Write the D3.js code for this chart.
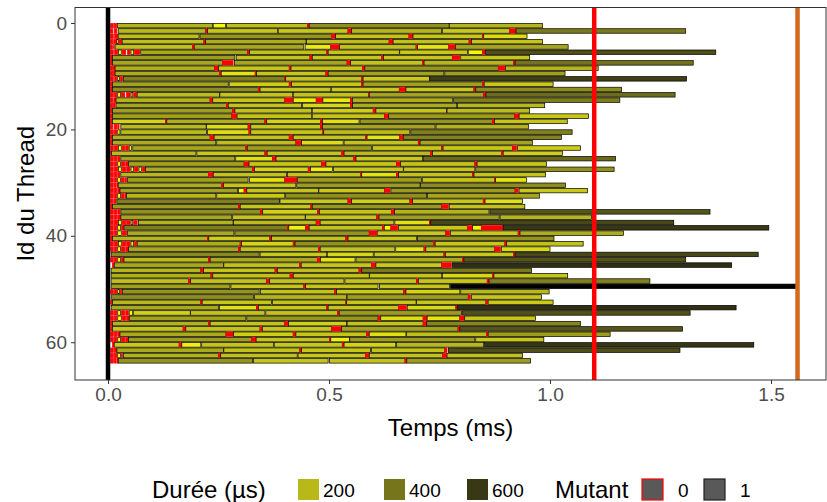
<!DOCTYPE html>
<html>
<head>
<meta charset="utf-8">
<script src="https://cdn.jsdelivr.net/npm/d3@7"></script>
<style>
  body { margin: 0; background: #fff; }
  svg { display: block; font-family: "Liberation Sans", Arial, sans-serif; }
</style>
</head>
<body>
<svg id="chart" width="827" height="502"></svg>
<script>
// one string per thread: "start-end" in µs, prefix r = mutant 0 (red)
const threadRows = [
  "r6-12 r14-19 21-236 238-266 268-451 r451-455 455-772 772-983",
  "r6-11 r14-20 23-221 r221-225 225-384 385-543 r543-551 551-755 757-909 r909-923 923-1307",
  "r6-12 r15-22 23-206 208-506 r506-515 515-681 r681-690 690-847 r847-850 850-948",
  "r6-11 r13-19 20-24 r25-31 32-217 r217-221 221-448 449-636 r636-645 645-817 r817-822 822-983",
  "r6-10 r12-14 16-191 r191-195 195-443 446-503 r504-523 524-697 r697-700 700-771 r771-785 786-1041",
  "r6-12 r15-22 24-30 r32-40 r44-50 52-58 r60-72 74-316 r316-320 320-495 r495-498 498-659 660-813 815-847 r847-853 854-1375",
  "r6-10 10-287 290-457 r457-462 462-619 r619-623 623-779 r779-796 798-954",
  "r6-10 10-259 r259-283 286-541 r541-549 549-712 r712-715 715-918 r918-921 921-1324",
  "r6-11 r12-16 16-241 r241-250 250-410 r410-414 414-576 r576-581 581-883 r883-898 899-1109",
  "r6-11 r12-16 16-252 r252-256 256-333 r333-336 336-493 r493-498 498-760 762-1034",
  "r6-12 r15-20 22-26 r28-33 35-399 r399-402 402-574 r574-577 577-727 728-1309",
  "r6-10 10-272 274-410 r410-415 415-574 r574-577 577-847 r847-851 851-1007",
  "r6-10 10-340 r340-344 344-504 506-659 r659-674 674-828 r828-832 832-1162",
  "r6-12 r14-20 22-28 r30-38 r42-50 52-56 r58-65 66-252 253-418 419-589 r589-591 591-850 r850-855 855-1283",
  "r6-11 r13-18 18-231 r231-237 237-400 r400-419 419-471 r471-486 486-549 r549-553 553-780 782-1158",
  "r6-11 r12-16 18-268 r268-272 272-438 440-549 r549-553 553-789 791-988",
  "r6-10 10-282 r282-287 287-461 462-600 r600-606 606-766 767-954",
  "r6-10 10-280 r280-291 292-461 462-626 r626-635 635-920 r920-930 930-1087",
  "r6-10 10-130 r130-133 133-355 r355-359 359-481 r481-485 485-568 570-870 r870-874 874-1039",
  "r6-11 r14-20 r22-25 29-222 223-317 r317-323 323-481 r481-485 485-740 742-951",
  "r6-12 r14-20 22-27 29-223 225-319 r319-323 323-486 r486-488 488-683 685-1050",
  "r6-10 10-231 r231-240 240-410 r410-419 419-583 r583-586 586-660 r660-668 668-1026",
  "r6-10 10-244 246-425 r425-438 438-532 534-702 r702-706 706-960",
  "r6-12 r14-22 24-30 r32-38 r40-46 48-53 56-311 r311-315 315-596 598-755 r755-758 758-915 r915-924 926-1069",
  "r6-8 8-199 201-355 r355-360 360-528 r528-534 534-730 r730-734 734-890 r890-894 894-1028",
  "r6-12 r14-20 r22-27 29-287 289-372 r372-380 380-555 r555-561 561-712 713-1148",
  "r6-12 r14-20 22-28 r30-38 r40-46 46-308 r308-319 319-483 r483-493 493-653 r653-662 662-830 r830-835 835-992",
  "r6-12 r14-22 24-30 r32-40 r42-50 52-58 r60-68 70-76 r78-84 85-327 r327-331 331-453 r453-458 458-508 510-668 669-830 832-1145",
  "r6-12 r14-20 r22-27 29-227 r227-238 238-404 406-571 r571-574 574-653 r653-657 657-825 r825-828 828-990",
  "r6-12 r14-20 22-28 r30-36 r38-42 44-317 320-400 r400-428 428-709 711-875 r875-877 877-947",
  "r6-12 r14-18 r20-23 23-257 r257-261 261-425 427-706 707-1035",
  "r6-12 r14-20 r22-27 27-293 295-308 r308-314 314-476 477-626 r626-638 640-921 r921-928 930-1085",
  "r6-12 r14-20 22-28 r30-36 r38-41 42-244 246-400 402-721 723-976",
  "r6-11 r13-18 20-388 389-543 r543-551 551-683 r683-689 689-849 r849-853 853-938",
  "r6-10 10-295 r295-299 299-459 r459-462 462-755 r755-770 772-943",
  "r6-12 r14-20 r22-27 29-345 r345-350 350-474 r474-478 478-641 r641-648 648-862 864-1362",
  "r6-12 r14-20 r22-29 29-280 282-446 447-608 r608-613 613-885 887-1094",
  "r6-12 r14-22 24-30 r32-40 r42-50 52-56 r58-66 69-283 284-471 r471-479 480-647 649-727 r727-730 730-1280",
  "r6-12 r14-20 22-28 r30-35 36-406 r406-409 409-447 r447-455 455-621 r621-625 625-640 r640-655 657-813 r813-825 825-845 r845-894 894-1495",
  "r6-12 r14-20 22-30 r32-42 44-285 287-591 r591-608 609-764 r764-773 775-928 r928-932 932-1166",
  "r6-10 10-225 r225-228 228-366 r366-370 370-538 r538-543 543-698 700-1009",
  "r6-12 r14-22 24-30 r32-40 r42-50 52-58 r60-65 66-299 r299-302 302-419 r419-423 423-736 r736-740 740-898 r898-902 902-1075",
  "r6-12 r14-20 22-28 r30-38 r40-46 46-295 r295-299 299-476 r476-480 480-649 651-715 r715-719 719-875 r875-888 890-1000",
  "7-342 344-495 496-600 602-760 r760-763 763-918 r918-921 921-1471",
  "r6-12 r14-20 22-28 r30-36 36-227 r227-231 231-474 r474-480 481-559 561-802 r802-805 805-1307",
  "r10-14 14-261 262-433 r433-437 437-596 r596-606 606-755 r755-777 779-1411",
  "7-210 r210-216 216-378 r378-383 383-568 r568-574 574-958",
  "7-233 r233-237 237-412 r412-419 419-591 592-755 757-870 r870-873 873-1040",
  "7-182 r182-187 187-359 r359-365 365-534 536-698 r698-702 702-858 r858-862 862-1226",
  "7-276 278-443 r443-447 447-611 614-773 775-1560",
  "r6-12 r14-20 22-26 r28-31 33-342 345-513 r513-517 517-669 r669-674 674-796 798-998",
  "7-329 331-540 541-815 r815-820 822-981",
  "r6-10 10-210 r210-213 213-370 372-538 r538-540 540-697 698-855 r855-859 860-1007",
  "7-250 252-336 r336-340 340-495 r495-498 498-657 r657-675 677-787 r787-790 790-1421",
  "r6-12 r14-20 22-28 r30-38 r40-46 48-56 57-186 187-355 357-519 r519-523 523-800 802-1317",
  "r6-12 r14-20 22-30 r32-40 r42-48 48-312 314-611 r611-617 617-713 r713-722 722-796 r796-807 807-967",
  "r6-10 10-227 r227-231 231-400 r400-408 408-540 541-713 r713-721 721-1069",
  "r6-10 10-170 r170-176 176-344 r344-349 349-506 r506-528 528-792 r792-796 796-1300",
  "r6-12 r14-20 r22-27 27-267 r267-284 284-419 r419-425 425-585 r585-591 591-674 675-856 r856-860 860-1136",
  "r6-12 r14-20 22-28 r30-38 r40-46 46-325 r325-335 335-501 r501-504 504-546 547-830 832-986",
  "r10-14 14-161 r161-167 167-210 212-374 376-530 r530-534 534-651 653-850 852-1461",
  "r6-12 r14-20 20-261 262-434 r434-438 438-594 596-762 r762-767 770-1294",
  "r6-12 r14-20 22-28 r30-33 35-250 r250-255 255-428 430-583 r583-591 591-757 r757-766 767-938",
  "r6-12 r14-18 r20-23 23-327 329-498 501-672 r672-676 676-956"
];

const xTicks = [0, 0.5, 1.0, 1.5];
const yTicks = [0, 20, 40, 60];
const vLineTimes = [0, 1.1, 1.56];           // ms
const vLineColors = ["black", "red", "#d2691e"];
const legendDurations = [200, 400, 600];
const mutantLevels = ["0", "1"];

const segments = [];
threadRows.forEach((row, id) => {
    row.split(" ").forEach(tok => {
        const mutant = tok[0] === "r" ? 0 : 1;
        const [a, b] = tok.replace("r", "").split("-").map(Number);
        segments.push({ id, start: a / 1000, end: b / 1000, dur: b - a, mutant });
    });
});

const svg = d3.select("#chart");
const panel = { left: 75, right: 826, top: 7.5, bottom: 380 };

const x = d3.scaleLinear().domain([-0.0747, 1.6244]).range([panel.left, panel.right]);
const y = d3.scaleLinear().domain([-2.91, 67.1]).range([panel.top, panel.bottom]);
const fill = d3.scaleLinear()
    .domain(d3.extent(segments, d => d.dur))
    .range(["yellow", "black"])
    .interpolate(d3.interpolateLab);

svg.append("clipPath").attr("id", "clip")
    .append("rect")
    .attr("x", panel.left).attr("y", panel.top)
    .attr("width", panel.right - panel.left).attr("height", panel.bottom - panel.top);

const plot = svg.append("g").attr("clip-path", "url(#clip)");

plot.selectAll(".seg")
    .data(segments)
    .enter()
    .append("rect")
    .attr("class", "seg")
    .attr("x", d => x(d.start))
    .attr("y", d => y(d.id) + 0.4)
    .attr("width", d => Math.max(0.6, x(d.end) - x(d.start)))
    .attr("height", d => y(d.id + 1) - y(d.id) - 0.8)
    .attr("fill", d => d.mutant === 0 ? "red" : fill(d.dur))
    .attr("stroke", d => d.mutant === 0 ? "red" : "black")
    .attr("stroke-width", 0.7);

plot.selectAll(".vline")
    .data(vLineTimes)
    .enter()
    .append("line")
    .attr("class", "vline")
    .attr("x1", d => x(d)).attr("x2", d => x(d))
    .attr("y1", panel.top).attr("y2", panel.bottom)
    .attr("stroke", (d, i) => vLineColors[i])
    .attr("stroke-width", 4.5);

// panel border
svg.append("rect")
    .attr("x", panel.left).attr("y", panel.top)
    .attr("width", panel.right - panel.left).attr("height", panel.bottom - panel.top)
    .attr("fill", "none").attr("stroke", "#333").attr("stroke-width", 1);

const xAxis = svg.append("g")
    .attr("transform", `translate(0,${panel.bottom})`)
    .call(d3.axisBottom(x).tickValues(xTicks).tickFormat(d3.format(".1f")).tickSize(4).tickPadding(4));
const yAxis = svg.append("g")
    .attr("transform", `translate(${panel.left},0)`)
    .call(d3.axisLeft(y).tickValues(yTicks).tickSize(4).tickPadding(4));

[xAxis, yAxis].forEach(ax => {
    ax.select(".domain").remove();
    ax.selectAll(".tick line").attr("stroke", "#333").attr("stroke-width", 1);
    ax.selectAll(".tick text")
        .attr("fill", "#4d4d4d")
        .style("font-size", "19px")
        .style("font-family", "Liberation Sans, Arial, sans-serif");
});

svg.append("text")
    .attr("x", (panel.left + panel.right) / 2)
    .attr("y", 436)
    .attr("text-anchor", "middle")
    .style("font-size", "24px")
    .text("Temps (ms)");

svg.append("text")
    .attr("transform", `translate(34,${(panel.top + panel.bottom) / 2}) rotate(-90)`)
    .attr("text-anchor", "middle")
    .style("font-size", "24px")
    .text("Id du Thread");

// legend
const legend = svg.append("g");
const keyY = 479, keySize = 21;
legend.append("text").attr("x", 152).attr("y", 498).style("font-size", "24px").text("Durée (µs)");

const durKeyX = [298, 384, 467];
legendDurations.forEach((v, i) => {
    legend.append("rect")
        .attr("x", durKeyX[i]).attr("y", keyY)
        .attr("width", keySize).attr("height", keySize)
        .attr("fill", fill(v));
    legend.append("text")
        .attr("x", durKeyX[i] + keySize + 4).attr("y", 497)
        .style("font-size", "19px")
        .text(v);
});

legend.append("text").attr("x", 555).attr("y", 498).style("font-size", "24px").text("Mutant");
const mutKeyX = [642, 704];
mutantLevels.forEach((m, i) => {
    legend.append("rect")
        .attr("x", mutKeyX[i]).attr("y", keyY)
        .attr("width", keySize).attr("height", keySize)
        .attr("fill", "#595959")
        .attr("stroke", m === "0" ? "red" : "#222")
        .attr("stroke-width", 1.2);
    legend.append("text")
        .attr("x", mutKeyX[i] + keySize + 15).attr("y", 497)
        .style("font-size", "19px")
        .text(m);
});
</script>
</body>
</html>
